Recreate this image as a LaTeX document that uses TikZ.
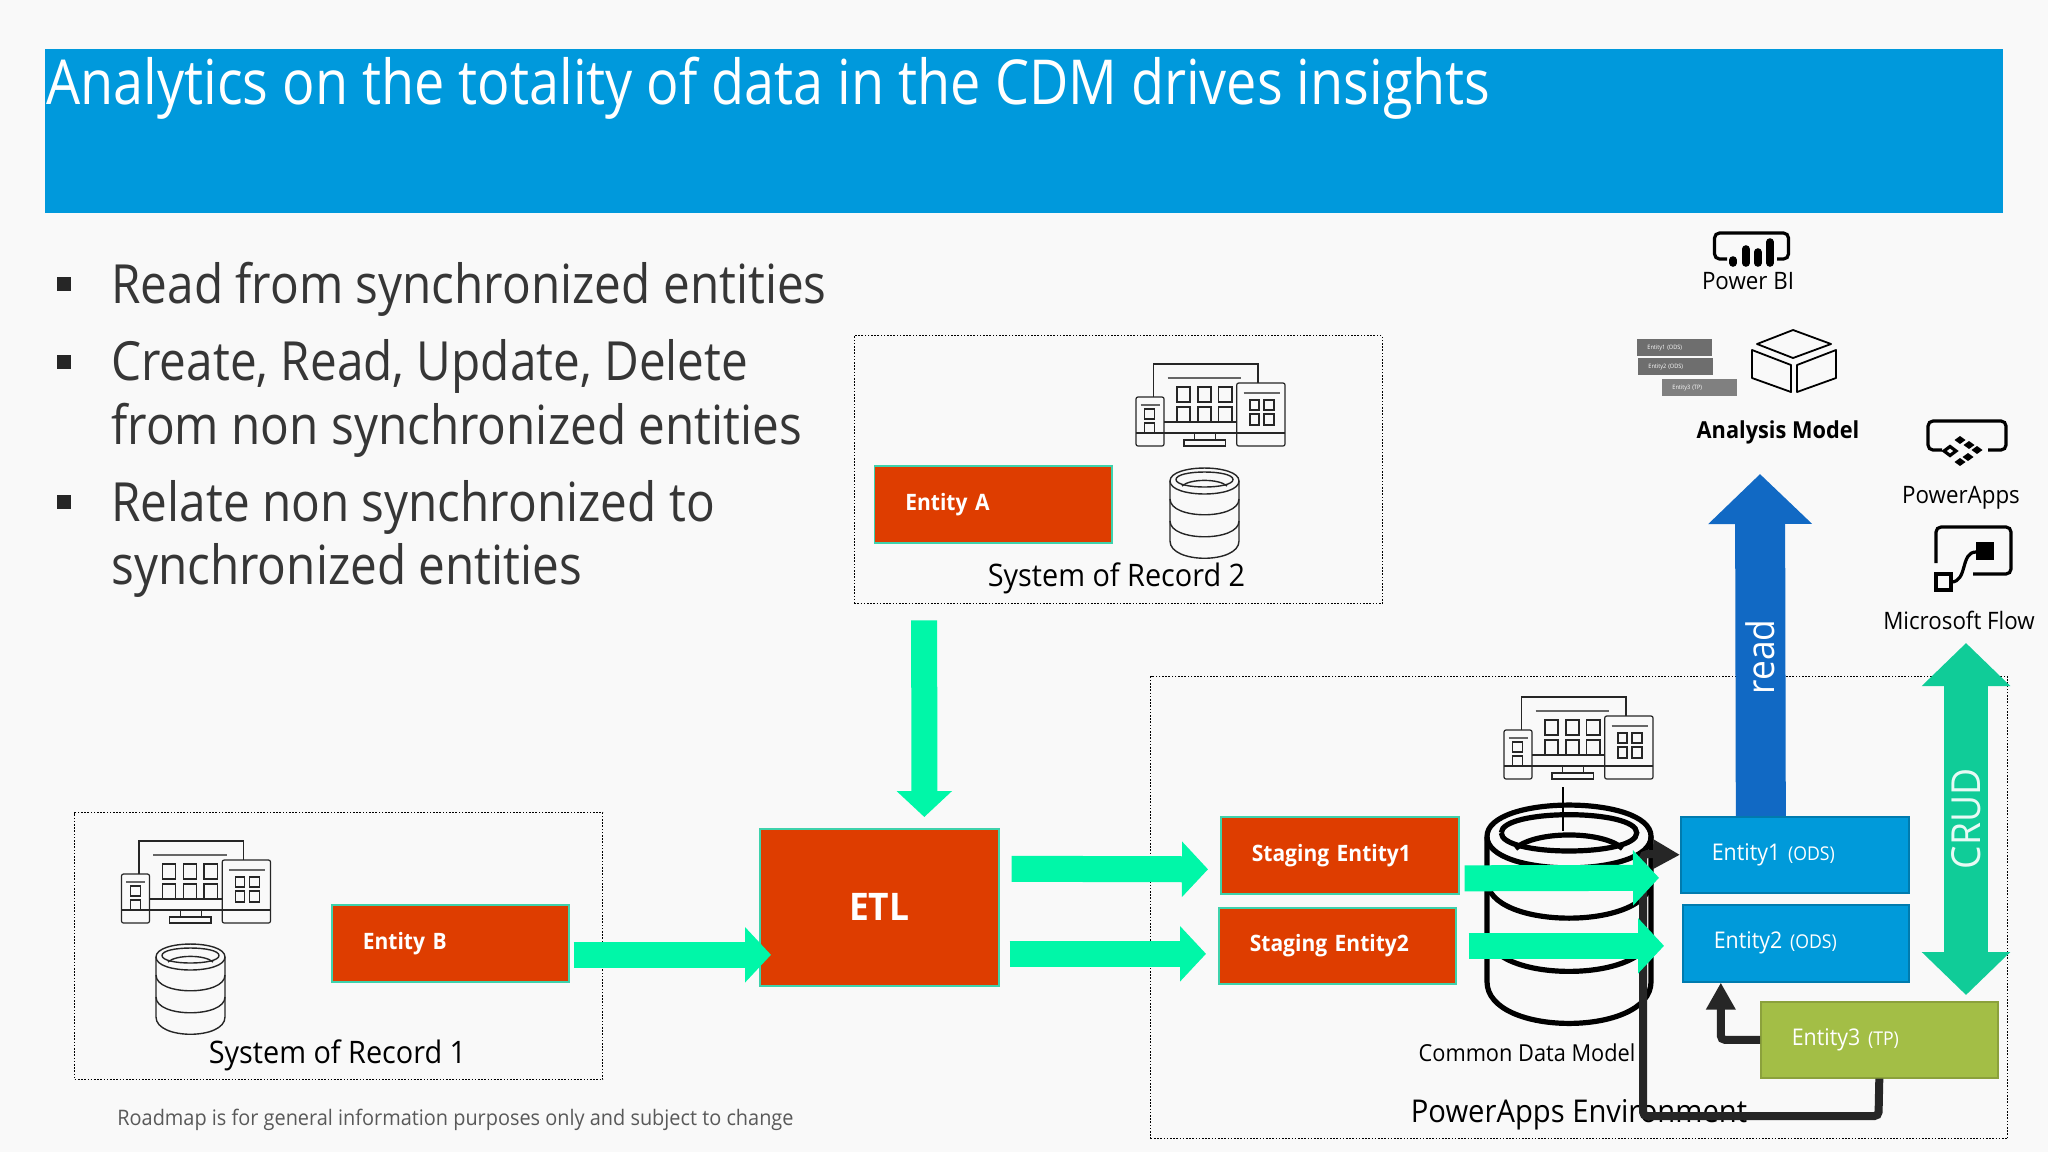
\documentclass[tikz,border=0pt]{standalone}
\usepackage{fontspec}
\setmainfont[FakeStretch=0.93]{Open Sans}
\newfontfamily\titlefont[FakeStretch=0.87]{Open Sans}
\newfontfamily\bulletfont[FakeStretch=0.883]{Open Sans}
\usepackage{tikz}
\usetikzlibrary{arrows.meta}
\definecolor{slidebg}{HTML}{F9F9F9}
\definecolor{titleblue}{HTML}{0099DC}
\definecolor{etlred}{HTML}{DE3D00}
\definecolor{edgeteal}{HTML}{3ED2AC}
\definecolor{flowgreen}{HTML}{00F7A8}
\definecolor{odsblue}{HTML}{009ADA}
\definecolor{readblue}{HTML}{1169C4}
\definecolor{crudgreen}{HTML}{10CC98}
\definecolor{tpgreen}{HTML}{A3BE46}
\definecolor{darkline}{HTML}{262626}
\definecolor{bodygrey}{HTML}{363636}
\newcommand{\padtext}[1]{\hspace*{15.5pt}#1}
\newcommand{\smalltag}[1]{{\fontsize{9.5}{10}\selectfont #1}}
\tikzset{
sysbox/.style={draw=black, line width=0.7pt, dash pattern=on 0.8pt off 0.8pt},
entitybox/.style={anchor=north west, inner xsep=0pt, inner ysep=0pt, align=left, text=white, line width=0.8pt},
redbox/.style={entitybox, fill=etlred, draw=edgeteal, font=\bfseries\fontsize{11.3}{13}\selectfont},
odsbox/.style={entitybox, fill=odsblue, draw=odsblue!80!black, font=\fontsize{11.5}{13}\selectfont},
tpbox/.style={entitybox, fill=tpgreen, draw=tpgreen!85!black, font=\fontsize{11.5}{13}\selectfont},
flowarrow/.style={draw=flowgreen, line width=13pt, -{Triangle[length=13pt,width=27pt]}},
tapline/.style={draw=darkline, line width=4pt, rounded corners=2pt, -{Triangle[length=13.5pt,width=14pt]}},
bodytext/.style={anchor=base west, inner sep=0pt, text=bodygrey, font=\bulletfont\fontsize{27}{32}\selectfont},
bullet/.style={fill=darkline, minimum size=7pt, inner sep=0pt},
caption/.style={inner sep=0pt, text=black},
chip/.style={anchor=north west, inner xsep=0pt, inner ysep=0pt, text=white, align=left, text width=37.5pt, minimum height=8.5pt, font=\fontsize{3}{4}\selectfont},
iconline/.style={draw=black, line width=1.6pt, rounded corners=2.5pt},
pics/devices/.style={code={
    \draw[line width=0.6pt, draw=black!85] (17.5,33) -- (17.5,0) -- (122,0) -- (122,19);
    \draw[line width=0.6pt, draw=black!85] (28,58) -- (100.7,58) (28,69) -- (100.7,69);
    \draw[line width=0.6pt, draw=black!85, rounded corners=1pt] (0,33) rectangle (28,82);
    \draw[line width=0.6pt, draw=black!85, rounded corners=1pt] (100.7,19) rectangle (149,82);
    \draw[line width=0.6pt, draw=black!85] (0,69) -- (28,69) (100.7,69) -- (149,69);
    \draw[line width=0.6pt, draw=black!85] (58.6,69) -- (58.6,76) (79.6,69) -- (79.6,76);
    \draw[line width=0.6pt, draw=black!85] (48,76) rectangle (89.4,82);
    \draw[line width=1.2pt, draw=black!60] (31.6,14) -- (105,14) (4.6,41) -- (23.5,41) (107.7,29) -- (143.5,29);
    \draw[line width=0.6pt, draw=black!85] (41,23) rectangle (54,38) (62,23) rectangle (75,38) (82.4,23) rectangle (96,38);
    \draw[line width=0.6pt, draw=black!85] (41,58) -- (41,43) -- (54,43) -- (54,58) (62,58) -- (62,43) -- (75,43) -- (75,58) (82.4,58) -- (82.4,43) -- (96,43) -- (96,58);
    \draw[line width=0.6pt, draw=black!85] (8.8,45) rectangle (18.6,55) (8.8,69) -- (8.8,59) -- (18.6,59) -- (18.6,69);
    \draw[line width=0.6pt, draw=black!85] (114,36) rectangle (123,46) (128,36) rectangle (138,46) (114,50) rectangle (123,61) (128,50) rectangle (138,61);
}},
pics/database/.style={code={
    % top ring and the barrel
    \draw (0,13) .. controls (0,-4.3) and (69,-4.3) .. (69,13) .. controls (69,30.3) and (0,30.3) .. (0,13);
    \draw (6,11.5) .. controls (6,1.5) and (63,1.5) .. (63,11.5) .. controls (63,21.5) and (6,21.5) .. (6,11.5);
    \draw (12,18) .. controls (20,10.5) and (49,10.5) .. (57,18);
    \draw (0,13) -- (0,73) .. controls (0,96) and (69,96) .. (69,73) -- (69,13);
    \draw (0,31) .. controls (0,52) and (69,52) .. (69,31);
    \draw (0,53) .. controls (0,74) and (69,74) .. (69,53);
}}
}

\begin{document}
\begin{tikzpicture}[x=0.5pt, y=-0.5pt]
    \useasboundingbox (0,0) rectangle (2048,1152);
    \fill[slidebg] (0,0) rectangle (2048,1152);

    % title band
    \node[anchor=north west, fill=titleblue, minimum width=979pt, minimum height=82pt, inner sep=0pt] (band) at (45,49) {};
    \node[anchor=base west, inner sep=0pt, text=white, font=\titlefont\fontsize{31}{36}\selectfont] (title) at (46,104) {Analytics on the totality of data in the CDM drives insights};

    % bullets
    \node[bullet] (bul1) at (64,284) {};
    \node[bullet] (bul2) at (64,362) {};
    \node[bullet] (bul3) at (64,502) {};
    \node[bodytext] (line1) at (111,303) {Read from synchronized entities};
    \node[bodytext] (line2) at (111,380) {Create, Read, Update, Delete};
    \node[bodytext] (line3) at (111,444) {from non synchronized entities};
    \node[bodytext] (line4) at (111,521) {Relate non synchronized to};
    \node[bodytext] (line5) at (111,584) {synchronized entities};

    % dotted frames
    \node[sysbox, anchor=north west, minimum width=264pt, minimum height=134pt, inner sep=0pt] (sor2) at (853.5,335) {};
    \node[sysbox, anchor=north west, minimum width=264pt, minimum height=133.5pt, inner sep=0pt] (sor1) at (74,812) {};
    \node[sysbox, anchor=north west, minimum width=428.5pt, minimum height=231pt, inner sep=0pt] (env) at (1150,676) {};

    % system of record 2
    \pic (devs2) at (1136,364) {devices};
    \pic[line width=0.7pt, draw=black!85] (cyl2) at (1170,468) {database};
    \node[redbox, text width=118.75pt, minimum height=38.5pt] (entA) at (873.5,465) {\padtext{Entity A}};
    \node[caption, font=\fontsize{15.5}{18}\selectfont] (lab2) at (1116.5,578) {System of Record 2};

    % system of record 1
    \pic (devs1) at (121.5,841) {devices};
    \pic[line width=0.7pt, draw=black!85] (cyl1) at (156,944) {database};
    \node[redbox, text width=118.5pt, minimum height=38.5pt] (entB) at (331,904) {\padtext{Entity B}};
    \node[caption, font=\fontsize{15.5}{18}\selectfont] (lab1) at (337.5,1055) {System of Record 1};
    \node[anchor=west, inner sep=0pt, text=black!65, font=\fontsize{10.7}{13}\selectfont] (note) at (117,1120) {Roadmap is for general information purposes only and subject to change};

    % etl and staging
    \node[entitybox, fill=etlred, draw=edgeteal, text width=119.5pt, minimum height=78.5pt, align=center, font=\bfseries\fontsize{19}{22}\selectfont] (etl) at (759,828) {ETL};
    \node[redbox, text width=119pt, minimum height=38.5pt] (stag1) at (1220,816) {\padtext{Staging Entity1}};
    \node[redbox, text width=118.5pt, minimum height=38pt] (stag2) at (1218,907) {\padtext{Staging Entity2}};

    \draw[flowarrow] ([shift={(4,11.5)}]entB.east) -- ([shift={(12,47.5)}]etl.west);
    \draw[flowarrow] ([shift={(-194,16)}]sor2.south) -- ([shift={(45,-11)}]etl.north);
    \draw[flowarrow] ([shift={(12,-38.5)}]etl.east) -- ([shift={(-12,14)}]stag1.west);
    \draw[flowarrow] ([shift={(10,46.5)}]etl.east) -- ([shift={(-12,8)}]stag2.west);

    % common data model
    \pic (devsc) at (1504,697) {devices};
    \pic[line width=2.6pt, draw=black, xscale=2.377, yscale=2.42] (cylc) at (1487,805) {database};
    \coordinate (devbase) at (1562.5,787);
    \coordinate (cyltop) at (1562.5,831);
    \draw[line width=1pt] (devbase) -- (cyltop);
    \node[caption, font=\fontsize{11.7}{14}\selectfont] (cdmlab) at (1527,1053) {Common Data Model};
    \node[caption, font=\fontsize{15.7}{18}\selectfont] (envlab) at (1579,1115) {PowerApps Environment};

    % entities
    \node[odsbox, text width=114pt, minimum height=38pt] (ent1) at (1680,816) {\padtext{Entity1 \smalltag{(ODS)}}};
    \node[odsbox, text width=113pt, minimum height=38.5pt] (ent2) at (1682,904) {\padtext{Entity2 \smalltag{(ODS)}}};
    \node[tpbox, text width=118.5pt, minimum height=38pt] (ent3) at (1760,1001) {\padtext{Entity3 \smalltag{(TP)}}};

    % entity 3 wiring
    \coordinate (busr) at (1878.5,1116);
    \coordinate (busl) at (1643,1116);
    \coordinate (busu) at (1643,854);
    \draw[tapline] (ent3.south) -- (busr) -- (busl) -- (busu) -- (ent1.west);
    \draw[tapline] (ent3.west) -| ([shift={(-75,0)}]ent2.south);

    \draw[flowarrow] ([shift={(5,23)}]stag1.east) -- ([shift={(-21,23)}]ent1.west);
    \draw[flowarrow] ([shift={(12,0)}]stag2.east) -- ([shift={(-18,2.5)}]ent2.west);

    % read and crud
    \coordinate (readtip) at (1760,474);
    \draw[draw=readblue, line width=25pt, -{Triangle[length=25pt,width=50.5pt]}] ([shift={(-34,0)}]ent1.north) -- (readtip) node[pos=0.465, rotate=90, text=white, inner sep=0pt, font=\fontsize{19}{22}\selectfont] (readlab) {read};
    \coordinate (crudtop) at (1966,643);
    \coordinate (crudbot) at (1966,995);
    \draw[draw=crudgreen, line width=21.8pt, {Triangle[length=21.5pt,width=43pt]}-{Triangle[length=21.5pt,width=43pt]}] (crudtop) -- (crudbot) node[pos=0.5, rotate=90, text=white!90!crudgreen, inner sep=0pt, font=\fontsize{20}{24}\selectfont] (crudlab) {CRUD};

    % power bi
    \draw[iconline] (1727,259) -- (1714.5,259) -- (1714.5,233) -- (1788.5,233) -- (1788.5,259) -- (1777,259);
    \draw[line width=3.8pt, line cap=round] (1733,260) -- (1733,263) (1745.7,249) -- (1745.7,263) (1757.7,252) -- (1757.7,263) (1770,242) -- (1770,263);
    \node[caption, font=\fontsize{12}{14}\selectfont] (bilab) at (1748,281) {Power BI};

    % analysis model
    \node[chip, fill=black!57] (chip1) at (1637,339) {\hspace*{5pt}Entity1 (ODS)};
    \node[chip, fill=black!57] (chip2) at (1638,358) {\hspace*{5pt}Entity2 (ODS)};
    \node[chip, fill=black!50] (chip3) at (1662,379) {\hspace*{5pt}Entity3 (TP)};
    \draw[line width=0.9pt, line join=round] (1757,344) -- (1793,330) -- (1831,344) -- (1793,358) -- cycle;
    \draw[line width=0.9pt, line join=round] (1752,350) -- (1791,365) -- (1791,392) -- (1752,378) -- cycle;
    \draw[line width=0.9pt, line join=round] (1797,365) -- (1836,350) -- (1836,378) -- (1797,392) -- cycle;
    \node[caption, font=\bfseries\fontsize{11.7}{14}\selectfont] (amlab) at (1778,432) {Analysis Model};

    % powerapps
    \draw[iconline] (1942,450) -- (1928,450) -- (1928,421) -- (2006,421) -- (2006,450) -- (1988,450);
    \draw[line width=1.6pt] (1944,451) -- (1950,446.5) -- (1956,451) -- (1950,455.5) -- cycle;
    \foreach \dx/\dy in {1960/440, 1969/445, 1977/450, 1968/457, 1960/462} {
        \fill (\dx-5.5,\dy) -- (\dx,\dy-4) -- (\dx+5.5,\dy) -- (\dx,\dy+4) -- cycle;
    }
    \node[caption, font=\fontsize{12}{14}\selectfont] (palab) at (1961,498) {PowerApps};

    % flow
    \draw[iconline] (1936,563) -- (1936,527) -- (2011,527) -- (2011,574) -- (1973,574);
    \fill (1976,542) rectangle (1994,560);
    \draw[line width=1.6pt] (1936,574) rectangle (1951,590);
    \draw[line width=1.6pt] (1951,582) .. controls (1968,582) and (1960,552) .. (1976,552);
    \node[caption, font=\fontsize{12}{14}\selectfont] (flowlab) at (1959,620) {Microsoft Flow};
\end{tikzpicture}
\end{document}
